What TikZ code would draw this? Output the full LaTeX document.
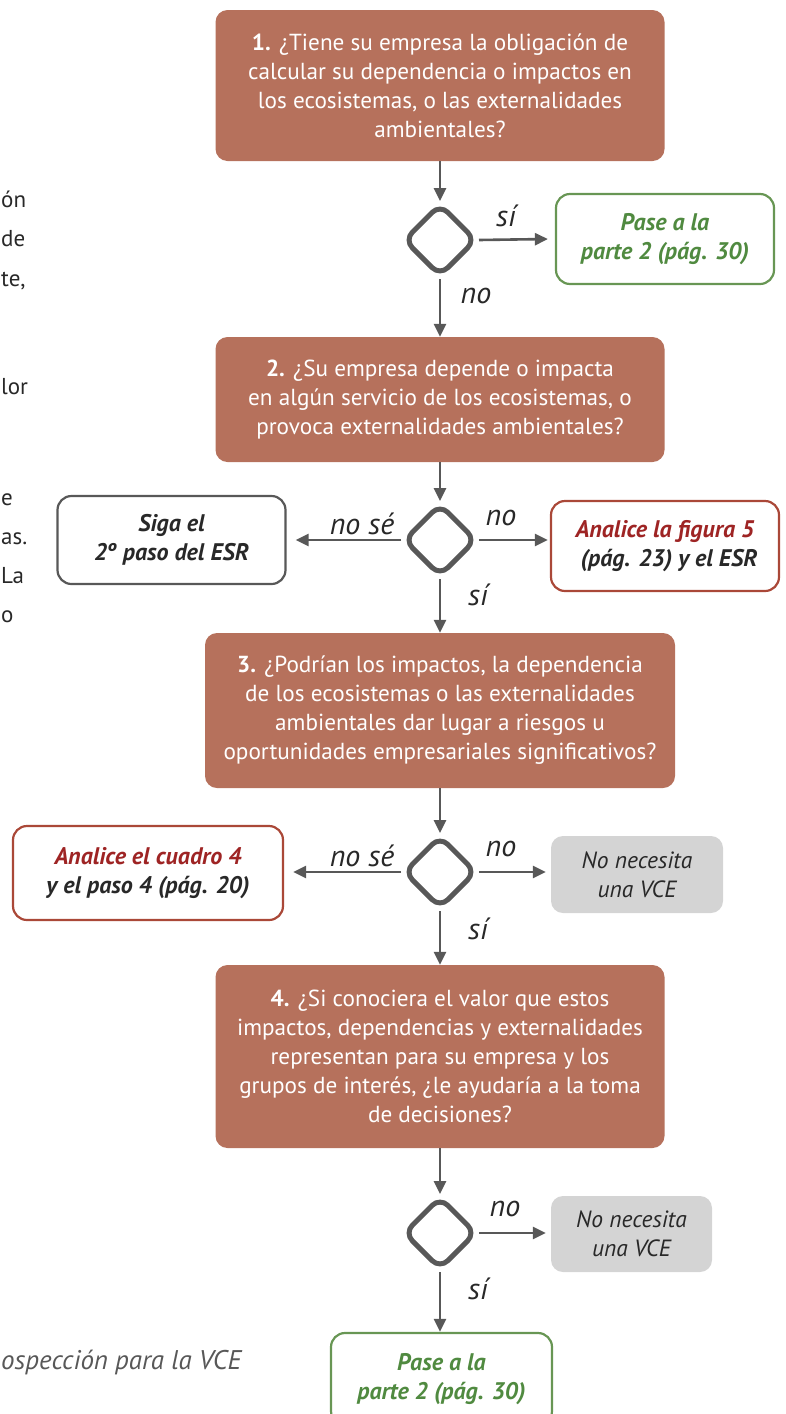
\documentclass[tikz,border=0pt]{standalone}
\usepackage{fontspec}
\setmainfont{PT Sans}
\usetikzlibrary{arrows.meta,shapes.geometric}
\definecolor{brick}{RGB}{182,113,92}
\definecolor{leaf}{RGB}{80,138,64}
\definecolor{leafline}{RGB}{104,150,84}
\definecolor{wine}{RGB}{158,36,36}
\definecolor{wineline}{RGB}{170,72,56}
\definecolor{ink}{RGB}{40,40,40}
\definecolor{wire}{RGB}{88,88,88}
\definecolor{mist}{RGB}{212,212,212}
\begin{document}
\begin{tikzpicture}[x=1pt,y=-1pt,
  question/.style={fill=brick, rounded corners=12pt, text=white, align=center,
    font=\fontsize{23.2}{29}\selectfont, inner sep=0pt},
  outbox/.style={draw, line width=2.2pt, rounded corners=14pt, fill=white, align=center,
    font=\fontsize{24}{29}\selectfont\bfseries\itshape, inner sep=0pt},
  greybox/.style={fill=mist, rounded corners=12pt, align=center, text=ink,
    font=\fontsize{23.5}{29}\selectfont\itshape, inner sep=0pt},
  choice/.style={diamond, draw=wire, line width=5pt, rounded corners=11pt,
    minimum width=73pt, minimum height=73pt, inner sep=0pt},
  arr/.style={draw=wire, line width=2.6pt,
    -{Triangle[length=13pt,width=12pt]}},
  answer/.style={font=\fontsize{30}{30}\selectfont\itshape, text=ink},
  margintext/.style={font=\fontsize{23}{23}\selectfont, text=ink, anchor=base west, inner sep=0pt}
]
\useasboundingbox (0,0) rectangle (786,1414);
\clip (0,0) rectangle (786,1414);

% last letters of the neighbouring text column
\node[margintext] (m1) at (1,207) {ón};
\node[margintext] (m2) at (1,246) {de};
\node[margintext] (m3) at (1,286) {te,};
\node[margintext] (m4) at (1,394) {lor};
\node[margintext] (m5) at (1,505) {e};
\node[margintext] (m6) at (1,544) {as.};
\node[margintext] (m7) at (1,583) {La};
\node[margintext] (m8) at (1,622) {o};
\node[font=\fontsize{27}{27}\selectfont\itshape, text=wire, anchor=base west, inner sep=0pt]
  (cap) at (1,1369) {ospección para la VCE};

% main questions
\node[question, minimum width=449pt, minimum height=151pt] (q1) at (440,85.5)
  {\textbf{1.} ¿Tiene su empresa la obligación de\\calcular su dependencia o impactos en\\los ecosistemas, o las externalidades\\ambientales?};
\node[question, minimum width=449pt, minimum height=125pt] (q2) at (440,399.5)
  {\textbf{2.} ¿Su empresa depende o impacta\\en algún servicio de los ecosistemas, o\\provoca externalidades ambientales?};
\node[question, minimum width=470pt, minimum height=155pt] (q3) at (440,710.5)
  {\textbf{3.} ¿Podrían los impactos, la dependencia\\de los ecosistemas o las externalidades\\ambientales dar lugar a riesgos u\\oportunidades empresariales significativos?};
\node[question, minimum width=449pt, minimum height=183pt] (q4) at (440,1056.5)
  {\textbf{4.} ¿Si conociera el valor que estos\\impactos, dependencias y externalidades\\representan para su empresa y los\\grupos de interés, ¿le ayudaría a la toma\\de decisiones?};

% decision diamonds
\node[choice] (d1) at (440,240) {};
\node[choice] (d2) at (440,540) {};
\node[choice] (d3) at (440,872) {};
\node[choice] (d4) at (440,1233) {};

% outcome boxes
\node[outbox, draw=leafline, text=leaf, minimum width=218pt, minimum height=90pt] (g1) at (665,239)
  {Pase a la\\parte 2 (pág. 30)};
\node[outbox, draw=wire, text=ink, minimum width=228pt, minimum height=88pt] (s2) at (171.5,540)
  {Siga el\\2º paso del ESR};
\node[outbox, draw=wineline, text=ink, minimum width=228pt, minimum height=90pt] (f5) at (665,546)
  {\textcolor{wine}{Analice la figura 5}\\\hspace*{8pt}(pág. 23) y el ESR};
\node[outbox, draw=wineline, text=ink, minimum width=270pt, minimum height=94pt] (c4) at (148,873)
  {\textcolor{wine}{Analice el cuadro 4}\\y el paso 4 (pág. 20)};
\node[greybox, minimum width=172pt, minimum height=77pt] (n3) at (637,874.5)
  {No necesita\\una VCE};
\node[greybox, minimum width=161pt, minimum height=76pt] (n4) at (631.5,1234)
  {No necesita\\una VCE};
\node[outbox, draw=leafline, text=leaf, minimum width=221pt, minimum height=92pt] (g4) at (441.5,1379)
  {Pase a la\\parte 2 (pág. 30)};

% connectors
\draw[arr] (q1.south) -- (d1.north);
\draw[arr] (d1.east) -- ([xshift=-7pt]g1.west);
\draw[arr] (d1.south) -- (q2.north);
\draw[arr] (q2.south) -- (d2.north);
\draw[arr] (d2.west) -- ([xshift=9pt]s2.east);
\draw[arr] (d2.east) -- ([xshift=-2pt]f5.west |- d2.east);
\draw[arr] (d2.south) -- (q3.north);
\draw[arr] (q3.south) -- (d3.north);
\draw[arr] (d3.west) -- ([xshift=9pt]c4.east |- d3.west);
\draw[arr] (d3.east) -- ([xshift=-5pt]n3.west |- d3.east);
\draw[arr] (d3.south) -- (q4.north);
\draw[arr] (q4.south) -- (d4.north);
\draw[arr] (d4.east) -- ([xshift=-5pt]n4.west |- d4.east);
\draw[arr] (d4.south) -- (g4.north -| d4.south);

% answer labels
\node[answer] (l1a) at (506,216) {sí};
\node[answer] (l1b) at (476,296) {no};
\node[answer] (l2a) at (362,524) {no sé};
\node[answer] (l2b) at (501,518) {no};
\node[answer] (l2c) at (478,595) {sí};
\node[answer] (l3a) at (362,856) {no sé};
\node[answer] (l3b) at (501,849) {no};
\node[answer] (l3c) at (478,929) {sí};
\node[answer] (l4a) at (505,1209) {no};
\node[answer] (l4b) at (478,1289) {sí};
\end{tikzpicture}
\end{document}
